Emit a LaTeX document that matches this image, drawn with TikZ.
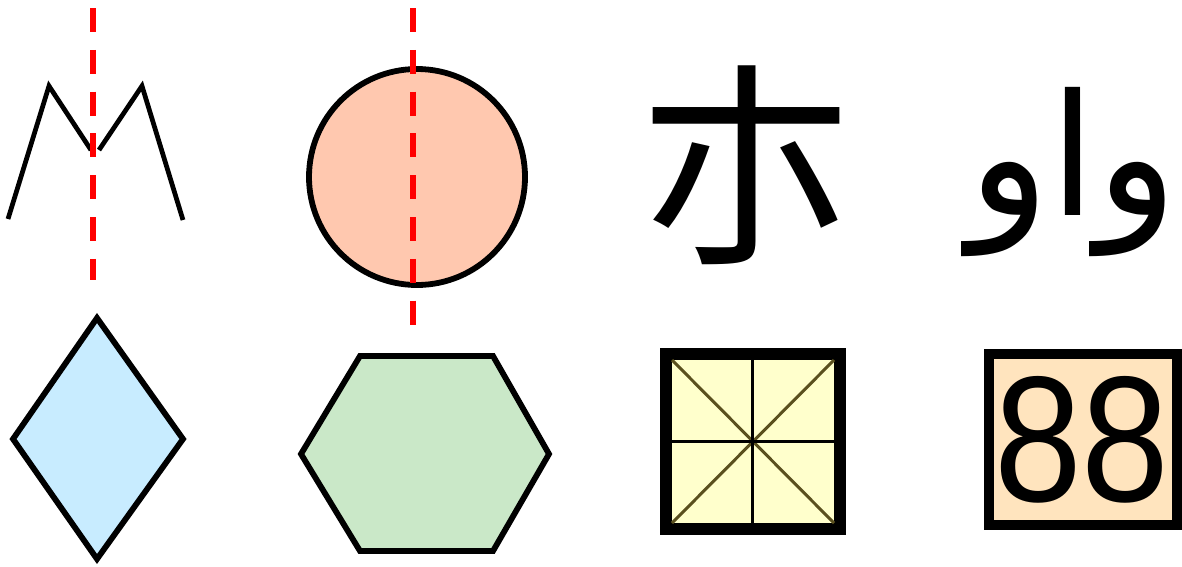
\documentclass[tikz,border=0pt]{standalone}
\usepackage{fontspec}
\newfontfamily\cjkfont{Noto Sans CJK SC}
\newfontfamily\arabicfont[Script=Arabic]{DejaVu Sans}
\newfontfamily\digitfont{Liberation Sans}
\TeXXeTstate=1
\definecolor{salmon}{RGB}{255,200,175}
\definecolor{lightsky}{RGB}{200,236,255}
\definecolor{palegreen}{RGB}{202,232,200}
\definecolor{paleyellow}{RGB}{255,255,204}
\definecolor{peach}{RGB}{255,228,190}
\definecolor{olive}{RGB}{90,80,30}

\begin{document}
\begin{tikzpicture}[x=0.02cm, y=-0.02cm, line join=miter]
\useasboundingbox (0,0) rectangle (1182,566);

% Zickzack oben links
\draw[line width=2.7pt] (8,219) -- (49,86) -- (91,150);
\draw[line width=2.7pt] (99,150) -- (142,86) -- (183,220);

% Kreis
\draw[fill=salmon, line width=3.3pt] (417,177) circle (108);

% Raute und Sechseck
\draw[fill=lightsky, line width=3.3pt]
	(97,318) -- (183,439) -- (97,559) -- (13,439) -- cycle;
\draw[fill=palegreen, line width=3.3pt]
	(360,356) -- (493,356) -- (549,454) -- (493,551) -- (360,551) -- (301,454) -- cycle;

% Feld mit Kreuz und Diagonalen
\draw[fill=paleyellow, line width=6.4pt] (666,354) rectangle (840,529);
\draw[olive, line width=1.7pt] (672,360) -- (834,523) (834,360) -- (672,523);
\draw[line width=1.7pt] (752,360) -- (752,523) (672,441) -- (834,441);

% Kasten mit Ziffern
\draw[fill=peach, line width=5.4pt] (989,354) rectangle (1177,525);
\node[inner sep=0, xscale=0.88] (digits) at (1082,440) {\digitfont\fontsize{102}{102}\selectfont 88};

% Schriftzeichen
\node[inner sep=0] (hanzi) at (746,165) {\cjkfont\fontsize{125}{125}\selectfont 朩};
\node[inner sep=0] (waw) at (1073,172) {\arabicfont\fontsize{96}{96}\selectfont\beginR واو\endR};

% Symmetrieachsen
\draw[red, line width=3.3pt, dash pattern=on 13.6pt off 10.2pt] (93,8) -- (93,280);
\draw[red, line width=3.3pt, dash pattern=on 13.6pt off 10.2pt] (413,8) -- (413,326);

\end{tikzpicture}
\end{document}
